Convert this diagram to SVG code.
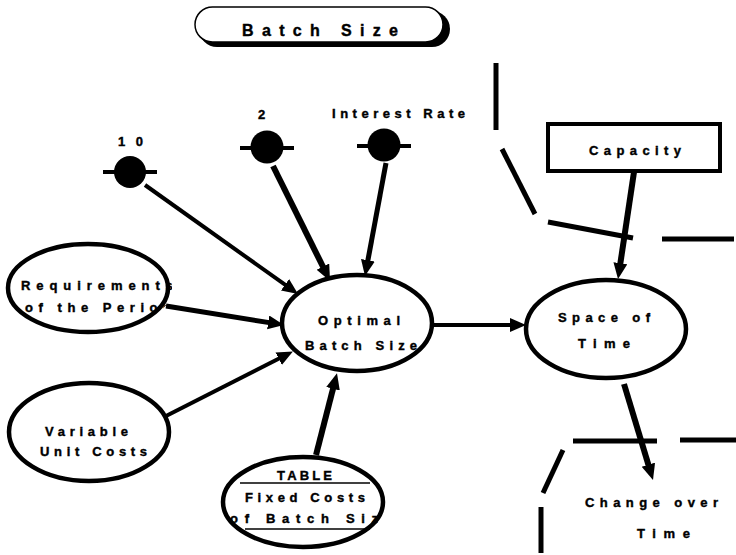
<svg xmlns="http://www.w3.org/2000/svg" width="736" height="555" viewBox="0 0 736 555">
<style>
.t{font-family:"Liberation Sans",Arial,sans-serif;font-weight:bold;font-size:13px;fill:#000;stroke:#000;stroke-width:0.4}
.n{fill:#fff;stroke:#000;stroke-width:4.5}
.c{fill:#000}
.bar{stroke:#000;stroke-width:4;stroke-linecap:butt}
.a{stroke:#000;fill:none;marker-end:url(#ah)}
.b{stroke:#000;stroke-width:5;stroke-linecap:butt}
</style>
<defs>
<marker id="ah" markerUnits="userSpaceOnUse" markerWidth="20" markerHeight="16" refX="6" refY="7" orient="auto">
<path d="M0,0 L16,7 L0,14 z" fill="#000"/>
</marker>
<clipPath id="clipReq"><ellipse cx="88" cy="288" rx="84" ry="46"/></clipPath>
<clipPath id="clipTab"><ellipse cx="303" cy="502" rx="83" ry="47"/></clipPath>
</defs>
<rect width="736" height="555" fill="#fff"/>

<g id="title">
<rect x="199" y="11" width="251" height="36" rx="18" fill="#000"/>
<rect x="195" y="7" width="248" height="35" rx="17.5" fill="#fff" stroke="#000" stroke-width="1.5"/>
<text class="t" x="242" y="36" textLength="156" lengthAdjust="spacing" style="font-size:16px">Batch Size</text>
</g>

<g id="boundary">
<line class="b" x1="496" y1="63" x2="496" y2="130"/>
<line class="b" x1="502" y1="149" x2="535" y2="214"/>
<line class="b" x1="548" y1="222" x2="633" y2="238"/>
<line class="b" x1="662" y1="239" x2="734" y2="239"/>
<line class="b" x1="573" y1="441" x2="657" y2="441"/>
<line class="b" x1="680" y1="440" x2="736" y2="440"/>
<line class="b" x1="563" y1="450" x2="543" y2="493"/>
<line class="b" x1="541" y1="507" x2="541" y2="553"/>
</g>

<g id="connectors">
<line class="a" stroke-width="4" x1="145" y1="185" x2="289.9" y2="288.2"/>
<line class="a" stroke-width="6" x1="273" y1="166" x2="325.6" y2="272"/>
<line class="a" stroke-width="5" x1="386" y1="163" x2="366.8" y2="266.2"/>
<line class="a" stroke-width="5" x1="166" y1="306" x2="274.1" y2="323.4"/>
<line class="a" stroke-width="4" x1="166" y1="416" x2="284" y2="356"/>
<line class="a" stroke-width="6" x1="316" y1="455" x2="334.5" y2="383"/>
<line class="a" stroke-width="4" x1="433" y1="325" x2="516" y2="325"/>
<line class="a" stroke-width="6" x1="634" y1="172" x2="619.5" y2="269.1"/>
<line class="a" stroke-width="6" x1="624" y1="384" x2="650.1" y2="470.4"/>
</g>

<g id="const10">
<line class="bar" x1="103" y1="172" x2="157" y2="172"/>
<circle class="c" cx="130" cy="172" r="16"/>
<text class="t" x="118" y="146" textLength="25" lengthAdjust="spacing">10</text>
</g>

<g id="const2">
<line class="bar" x1="240" y1="148" x2="294" y2="148"/>
<circle class="c" cx="267" cy="147" r="16.5"/>
<text class="t" x="258" y="119">2</text>
</g>

<g id="interest">
<line class="bar" x1="357" y1="146" x2="411" y2="146"/>
<circle class="c" cx="384" cy="145" r="16.5"/>
<text class="t" x="332" y="118" textLength="133" lengthAdjust="spacing">Interest Rate</text>
</g>

<g id="requirements">
<ellipse class="n" cx="88" cy="288" rx="80" ry="44"/>
<g clip-path="url(#clipReq)">
<text class="t" x="21" y="290" textLength="152" lengthAdjust="spacing">Requirements</text>
<text class="t" x="25" y="312" textLength="146" lengthAdjust="spacing">of the Period</text>
</g>
</g>

<g id="variable">
<ellipse class="n" cx="89" cy="432" rx="80" ry="49"/>
<text class="t" x="45" y="436" textLength="83" lengthAdjust="spacing">Variable</text>
<text class="t" x="40" y="456" textLength="107" lengthAdjust="spacing">Unit Costs</text>
</g>

<g id="table">
<ellipse class="n" cx="303" cy="502" rx="80" ry="45"/>
<line x1="240" y1="483" x2="370" y2="483" stroke="#000" stroke-width="1.5"/>
<line x1="245" y1="529" x2="370" y2="529" stroke="#000" stroke-width="1.5"/>
<g clip-path="url(#clipTab)">
<text class="t" x="277" y="480" textLength="55" lengthAdjust="spacing">TABLE</text>
<text class="t" x="245" y="502" textLength="120" lengthAdjust="spacing">Fixed Costs</text>
<text class="t" x="230" y="523" textLength="162" lengthAdjust="spacing">of Batch Size</text>
</g>
</g>

<g id="optimal">
<ellipse class="n" cx="357" cy="323" rx="75" ry="48"/>
<text class="t" x="318" y="325" textLength="82" lengthAdjust="spacing">Optimal</text>
<text class="t" x="305" y="350" textLength="112" lengthAdjust="spacing">Batch Size</text>
</g>

<g id="capacity">
<rect x="548" y="124" width="172" height="47" fill="#fff" stroke="#000" stroke-width="4"/>
<text class="t" x="589" y="155" textLength="92" lengthAdjust="spacing">Capacity</text>
</g>

<g id="space">
<ellipse class="n" cx="606" cy="329" rx="80" ry="49"/>
<text class="t" x="558" y="322" textLength="92" lengthAdjust="spacing">Space of</text>
<text class="t" x="578" y="348" textLength="52" lengthAdjust="spacing">Time</text>
</g>

<g id="change">
<text class="t" x="585" y="507" textLength="133" lengthAdjust="spacing">Change over</text>
<text class="t" x="637" y="538" textLength="53" lengthAdjust="spacing">Time</text>
</g>
</svg>
